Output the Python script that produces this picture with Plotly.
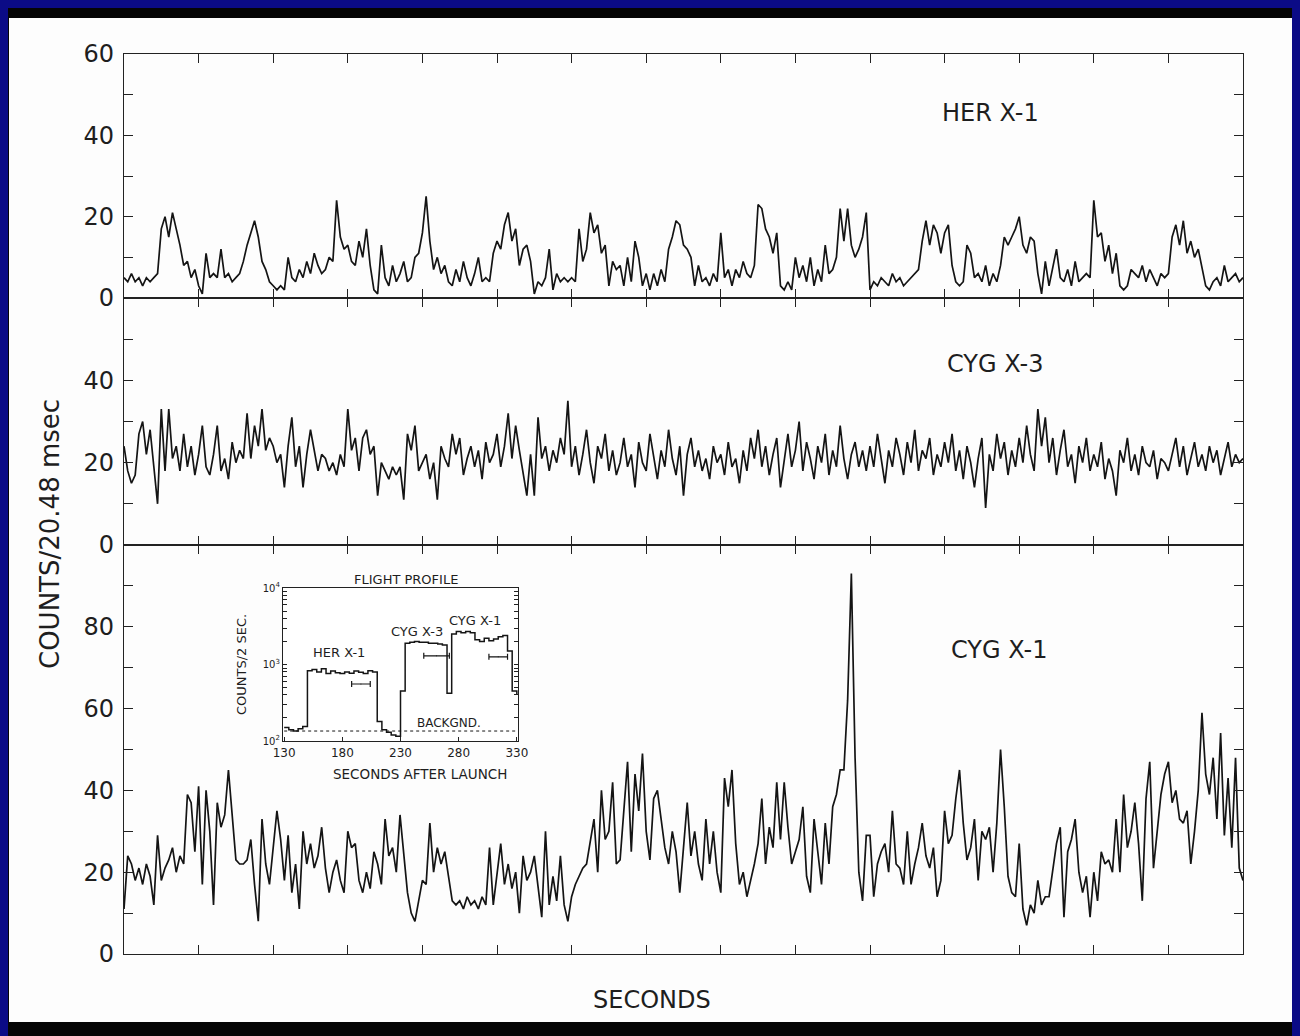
import plotly.graph_objects as go

# ---------------- data ----------------
T_STEP = 0.05  # seconds between samples shown on the main light curves

her_x1 = [
    5, 4, 6, 4, 5, 3, 5, 4, 5, 6, 17, 20, 15, 21, 17, 13, 8, 9, 5, 7,
    3, 1, 11, 5, 6, 5, 12, 5, 6, 4, 5, 6, 9, 13, 16, 19, 15, 9, 7, 4,
    3, 2, 3, 2, 10, 5, 4, 7, 5, 9, 6, 11, 8, 6, 7, 10, 9, 24, 15, 12,
    13, 9, 8, 14, 10, 17, 8, 2, 1, 13, 5, 3, 8, 4, 6, 9, 4, 5, 10, 11,
    16, 25, 14, 7, 10, 6, 8, 4, 3, 7, 4, 9, 5, 3, 6, 10, 4, 5, 4, 11,
    14, 12, 18, 21, 14, 17, 8, 12, 13, 9, 1, 4, 3, 5, 12, 2, 6, 4, 5, 4,
    5, 4, 17, 9, 12, 21, 16, 18, 11, 13, 3, 9, 7, 8, 3, 10, 4, 14, 10, 3,
    6, 2, 6, 3, 7, 4, 12, 15, 19, 18, 13, 12, 10, 3, 8, 4, 5, 3, 6, 4,
    16, 5, 7, 3, 7, 5, 9, 6, 5, 8, 23, 22, 17, 15, 11, 16, 3, 2, 4, 2,
    10, 5, 8, 4, 10, 3, 7, 4, 13, 6, 7, 10, 22, 14, 22, 13, 10, 12, 15, 21,
    2, 4, 3, 5, 4, 3, 6, 4, 5, 3, 4, 5, 6, 7, 14, 19, 13, 18, 16, 11,
    16, 18, 8, 4, 3, 4, 13, 11, 5, 6, 4, 8, 3, 6, 4, 8, 15, 13, 15, 17,
    20, 13, 11, 15, 14, 6, 1, 9, 3, 8, 12, 5, 4, 7, 3, 9, 4, 5, 6, 5,
    24, 15, 16, 9, 13, 6, 11, 3, 2, 3, 7, 6, 5, 8, 4, 7, 5, 3, 6, 5,
    6, 15, 18, 13, 19, 11, 14, 10, 12, 7, 3, 2, 4, 5, 3, 8, 4, 5, 6, 4,
    5,
]

cyg_x3 = [
    24, 18, 15, 17, 27, 30, 22, 28, 19, 10, 33, 18, 33, 21, 24, 18, 27, 19, 24, 17,
    22, 29, 19, 17, 22, 29, 18, 21, 16, 25, 20, 23, 21, 32, 21, 29, 24, 33, 23, 26,
    24, 20, 22, 14, 24, 31, 19, 24, 14, 22, 28, 23, 18, 22, 21, 18, 20, 17, 22, 19,
    33, 23, 26, 18, 26, 28, 22, 24, 12, 20, 18, 16, 19, 17, 19, 11, 27, 23, 29, 18,
    20, 22, 16, 20, 11, 24, 21, 19, 27, 22, 26, 17, 21, 24, 19, 23, 16, 25, 20, 22,
    27, 19, 24, 32, 21, 29, 23, 18, 12, 22, 12, 31, 21, 24, 18, 23, 20, 26, 22, 35,
    19, 24, 17, 22, 28, 20, 15, 24, 21, 27, 18, 23, 17, 20, 26, 19, 22, 14, 25, 20,
    18, 27, 21, 16, 23, 19, 28, 21, 17, 24, 12, 22, 26, 19, 23, 18, 21, 16, 24, 20,
    22, 17, 25, 19, 21, 15, 23, 18, 26, 21, 28, 19, 24, 17, 22, 26, 14, 21, 27, 19,
    23, 30, 18, 25, 21, 16, 24, 20, 27, 17, 23, 19, 29, 21, 16, 22, 25, 19, 23, 18,
    24, 19, 27, 21, 15, 23, 19, 26, 22, 17, 25, 20, 28, 18, 23, 21, 26, 17, 22, 19,
    25, 20, 27, 18, 23, 16, 24, 20, 14, 21, 26, 9, 22, 18, 27, 21, 25, 17, 23, 19,
    26, 20, 29, 22, 18, 33, 24, 31, 20, 26, 17, 23, 28, 19, 22, 15, 24, 20, 26, 18,
    22, 19, 25, 16, 21, 18, 12, 23, 20, 26, 18, 22, 17, 24, 20, 19, 23, 16, 21, 20,
    18, 22, 26, 19, 24, 17, 21, 25, 19, 22, 18, 24, 20, 23, 17, 21, 25, 19, 22, 20,
    21,
]

cyg_x1 = [
    11, 24, 22, 18, 21, 17, 22, 19, 12, 29, 18, 21, 23, 26, 20, 24, 22, 39, 37, 25,
    41, 17, 40, 30, 12, 37, 31, 34, 45, 33, 23, 22, 22, 23, 28, 17, 8, 33, 22, 17,
    26, 35, 28, 18, 29, 15, 22, 11, 30, 22, 27, 21, 24, 31, 21, 15, 20, 23, 18, 15,
    30, 26, 27, 18, 15, 20, 16, 25, 22, 17, 33, 24, 26, 20, 34, 24, 15, 10, 8, 13,
    18, 17, 32, 20, 26, 22, 25, 19, 13, 12, 13, 11, 14, 12, 13, 11, 14, 12, 26, 12,
    20, 27, 17, 22, 16, 20, 10, 24, 18, 20, 24, 17, 9, 30, 12, 19, 13, 24, 12, 8,
    14, 17, 19, 21, 22, 28, 33, 20, 40, 28, 30, 42, 22, 23, 35, 47, 25, 44, 35, 49,
    30, 23, 38, 40, 33, 26, 22, 30, 25, 15, 26, 37, 24, 30, 22, 18, 33, 22, 30, 20,
    15, 43, 36, 45, 27, 17, 20, 14, 18, 22, 27, 38, 22, 31, 26, 42, 28, 42, 31, 22,
    25, 28, 36, 19, 15, 33, 25, 17, 32, 22, 36, 39, 45, 45, 62, 93, 48, 20, 13, 29,
    29, 14, 22, 25, 27, 20, 35, 22, 21, 17, 30, 17, 22, 26, 32, 24, 21, 26, 14, 18,
    35, 27, 29, 38, 45, 32, 23, 26, 33, 18, 30, 28, 31, 20, 32, 50, 36, 19, 15, 14,
    27, 11, 7, 12, 10, 18, 12, 14, 14, 21, 27, 31, 9, 25, 28, 33, 20, 15, 19, 9,
    20, 13, 25, 22, 23, 20, 33, 20, 39, 26, 30, 37, 27, 13, 38, 47, 21, 30, 39, 44,
    47, 37, 40, 33, 32, 35, 22, 30, 40, 59, 44, 39, 48, 33, 54, 29, 43, 26, 48, 21,
    18,
]

time_s = [round(i * T_STEP, 2) for i in range(len(her_x1))]

# inset: flight profile (counts per 2 s vs seconds after launch)
profile_t = list(range(130, 331, 4))
profile_counts = [
    150, 140, 135, 145, 155, 830, 860, 800, 880, 760, 820, 780, 760, 800, 770, 820, 790,
    760, 830, 800, 180, 140, 130, 120, 115, 450, 1900, 1950, 2000, 1950, 1950, 1900, 1900,
    1850, 1800, 420, 2500, 2700, 2600, 2700, 2600, 2100, 2000, 2200, 2050, 2150, 2300,
    2400, 1500, 450, 400,
]
err_t = [196, 261, 314]
err_half = [8, 11, 8]
err_counts = [556, 1300, 1260]
background_level = 135

# ---------------- figure ----------------
W, H = 1300, 1036
OFF = 8  # the page places the figure 8 px in from the top-left corner
BLUE = "#0b0b86"

def px(x):
    return (x - OFF) / W
def py(y):
    return (H - (y - OFF)) / H

LINE = dict(color="#141414", width=1.7)
fig = go.Figure()
fig.add_trace(go.Scatter(x=time_s, y=cyg_x1, mode="lines", line=LINE, xaxis="x", yaxis="y", showlegend=False))
fig.add_trace(go.Scatter(x=time_s, y=cyg_x3, mode="lines", line=LINE, xaxis="x2", yaxis="y2", showlegend=False))
fig.add_trace(go.Scatter(x=time_s, y=her_x1, mode="lines", line=LINE, xaxis="x3", yaxis="y3", showlegend=False))

# inset traces
fig.add_trace(go.Scatter(x=profile_t, y=profile_counts, mode="lines", line=dict(color="#151515", width=1.5, shape="hv"),
                         xaxis="x4", yaxis="y4", showlegend=False))
fig.add_trace(go.Scatter(x=[profile_t[0], profile_t[-1]], y=[background_level, background_level], mode="lines",
                         line=dict(color="#151515", width=1, dash="dot"), xaxis="x4", yaxis="y4", showlegend=False))
fig.add_trace(go.Scatter(x=err_t, y=err_counts, mode="markers", marker=dict(size=1, color="#151515"),
                         error_x=dict(type="data", array=err_half, color="#151515", thickness=1.2, width=3),
                         xaxis="x4", yaxis="y4", showlegend=False))

FONT = "DejaVu Sans"
TXT = "#1e1e1e"

xcommon = dict(range=[0, 15], tick0=0, dtick=1, ticks="inside", ticklen=9, tickwidth=1.4, tickcolor="#222",
               showticklabels=False, showline=True, linecolor="#222", linewidth=1.3, mirror="ticks",
               showgrid=False, zeroline=False, automargin=False)

def yax(domain, top, labelled):
    vals = list(range(0, top + 1, 10))
    text = [str(v) if v in labelled else " " for v in vals]
    return dict(domain=domain, range=[0, top], tickvals=vals, ticktext=text, ticks="inside", ticklen=9,
                tickwidth=1.4, tickcolor="#222", showline=True, linecolor="#222", linewidth=1.3, mirror="ticks",
                showgrid=False, zeroline=False, tickfont=dict(family=FONT, size=24, color=TXT),
                ticklabelstandoff=4, automargin=False)

d_bot = [py(954), py(545)]
d_mid = [py(545), py(298)]
d_top = [py(298), py(54)]
xdom = [px(124), px(1243)]

minor_log = [100, 200, 300, 400, 500, 600, 700, 800, 900, 1000, 2000, 3000, 4000, 5000, 6000, 7000, 8000, 9000, 10000]
log_text = ["10<sup>2</sup>" if v == 100 else "10<sup>3</sup>" if v == 1000 else "10<sup>4</sup>" if v == 10000 else " "
            for v in minor_log]

fig.update_layout(
    width=W, height=H, margin=dict(l=0, r=0, t=0, b=0, pad=0, autoexpand=False),
    paper_bgcolor=BLUE, plot_bgcolor="white",
    xaxis=dict(xcommon, domain=xdom, anchor="y"),
    xaxis2=dict(xcommon, domain=xdom, anchor="y2"),
    xaxis3=dict(xcommon, domain=xdom, anchor="y3"),
    yaxis=dict(yax(d_bot, 100, {0, 20, 40, 60, 80}), anchor="x"),
    yaxis2=dict(yax(d_mid, 60, {0, 20, 40}), anchor="x2"),
    yaxis3=dict(yax(d_top, 60, {0, 20, 40, 60}), anchor="x3"),
    xaxis4=dict(domain=[px(283), px(518)], anchor="y4", range=[129, 331], tickvals=[130, 180, 230, 280, 330],
                ticks="inside", ticklen=4, tickwidth=1, tickcolor="#222", showline=True, linecolor="#222",
                linewidth=1.3, mirror=True, showgrid=False, zeroline=False, automargin=False,
                tickfont=dict(family=FONT, size=12, color=TXT)),
    yaxis4=dict(domain=[py(741), py(588)], anchor="x4", type="log", range=[2, 4], tickvals=minor_log,
                ticktext=log_text, ticks="inside", ticklen=4, tickwidth=1, tickcolor="#222", showline=True,
                linecolor="#222", linewidth=1.3, mirror="ticks", showgrid=False, zeroline=False, automargin=False,
                tickfont=dict(family=FONT, size=10, color=TXT)),
    shapes=[
        # black scan bands (top, bottom) and the thin dark left edge
        dict(type="rect", xref="paper", yref="paper", x0=px(7), x1=px(1310), y0=py(20), y1=py(3),
             fillcolor="#050505", line=dict(width=0), layer="below"),
        dict(type="rect", xref="paper", yref="paper", x0=px(7), x1=px(1310), y0=py(1050), y1=py(1020),
             fillcolor="#050505", line=dict(width=0), layer="below"),
        dict(type="rect", xref="paper", yref="paper", x0=px(7), x1=px(10), y0=py(1022), y1=py(18),
             fillcolor="#050505", line=dict(width=0), layer="below"),
        dict(type="rect", xref="paper", yref="paper", x0=px(9), x1=px(1295), y0=py(1022), y1=py(18),
             fillcolor="#fdfdfd", line=dict(width=0), layer="below"),
    ],
)

ann = []
def add_text(text, x, y, size, angle=0, xref="paper", yref="paper"):
    ann.append(dict(text=text, x=x, y=y, xref=xref, yref=yref, showarrow=False, textangle=angle,
                    font=dict(family=FONT, size=size, color=TXT), xanchor="center", yanchor="middle"))

add_text("HER X-1", px(990), py(113), 24)
add_text("CYG X-3", px(995), py(364), 24)
add_text("CYG X-1", px(999), py(650), 24)
add_text("COUNTS/20.48 msec", px(50), py(534), 26, angle=-90)
add_text("SECONDS", px(652), py(1000), 24)
add_text("FLIGHT PROFILE", px(406), py(579), 13)
add_text("SECONDS AFTER LAUNCH", px(420), py(774), 13.5)
add_text("COUNTS/2 SEC.", px(241), py(665), 13, angle=-90)
add_text("HER X-1", 177.5, 3.16, 13, xref="x4", yref="y4")
add_text("CYG X-3", 244, 3.425, 13, xref="x4", yref="y4")
add_text("CYG X-1", 294, 3.58, 13, xref="x4", yref="y4")
add_text("BACKGND.", 272, 2.235, 12, xref="x4", yref="y4")
fig.update_layout(annotations=ann)

fig.write_html("out.html", post_script="document.body.style.backgroundColor='%s';" % BLUE)
